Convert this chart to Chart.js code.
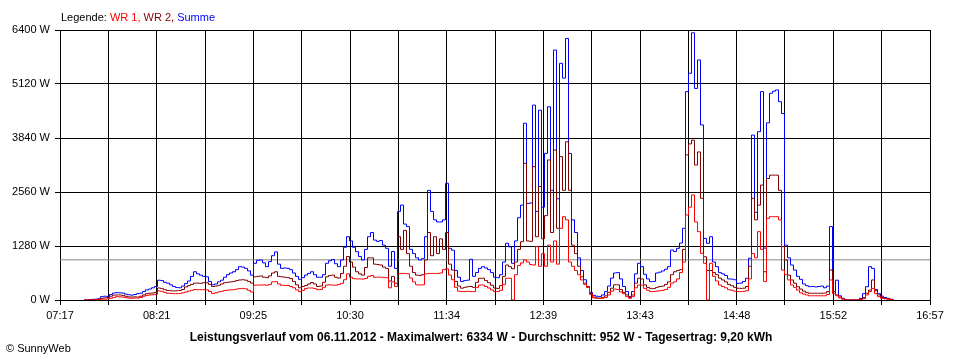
<!DOCTYPE html>
<html lang="de">
<head>
<meta charset="utf-8">
<title>Leistungsverlauf 06.11.2012</title>
<script src="https://cdn.jsdelivr.net/npm/chart.js@4.4.0/dist/chart.umd.min.js"></script>
<style>
    html, body { margin: 0; padding: 0; background: #fff; }
    #leistungChart { display: block; background: #fff; }
</style>
</head>
<body>
<canvas id="leistungChart" width="960" height="360"></canvas>
<script>
/**
 * Leistungsverlauf (SunnyWeb) - 06.11.2012
 */

// Achsen: Zeitachse 07:17 bis 16:57 (580 Minuten), Leistung 0 bis 6400 W
const zeitLabels = ['07:17', '08:21', '09:25', '10:30', '11:34', '12:39', '13:43', '14:48', '15:52', '16:57'];
const achsenMinuten = 580;
const yTicks = [0, 1280, 2560, 3840, 5120, 6400];

// Messwerte in W: erster Wert um 07:33, danach alle 2 Minuten
const ersterWertMinute = 16;
const intervallMinuten = 2;

const summe = [
    0, 0, 10, 15, 20, 30, 80, 90, 85, 130, 165, 175, 170, 165, 140, 125, 115, 130, 150, 160,
    200, 240, 260, 290, 320, 470, 460, 420, 400, 360, 320, 295, 290, 330, 390, 450, 560, 670, 620, 590,
    560, 550, 440, 360, 380, 430, 470, 540, 600, 640, 670, 720, 790, 780, 750, 690, 590, 870, 940, 950,
    880, 790, 910, 1050, 1140, 850, 750, 760, 750, 720, 640, 560, 490, 530, 590, 630, 670, 600, 540, 540,
    600, 870, 930, 960, 860, 790, 950, 1250, 1500, 1400, 1250, 1145, 1030, 950, 1200, 1500, 1600, 1420, 1390, 1410,
    1300, 1225, 800, 1150, 750, 2100, 2250, 1800, 1740, 1200, 1100, 1000, 950, 980, 1500, 2600, 2100, 1900, 1850, 1850,
    1900, 2765, 1225, 1180, 700, 540, 440, 460, 470, 965, 560, 650, 750, 790, 760, 720, 650, 540, 530, 600,
    900, 1345, 1260, 870, 1400, 1950, 2250, 4190, 2290, 2300, 4620, 2100, 4500, 2200, 3475, 4580, 2600, 5925, 2400, 5610,
    5260, 6200, 3475, 1900, 1600, 1000, 700, 480, 315, 180, 110, 90, 80, 120, 200, 330, 520, 640, 650, 500,
    320, 200, 80, 200, 620, 870, 790, 610, 500, 435, 440, 640, 660, 690, 730, 790, 1185, 1150, 1225, 1350,
    1700, 4940, 5375, 6334, 5015, 5690, 4150, 1460, 1345, 1500, 900, 790, 650, 620, 580, 500, 495, 480, 395, 400,
    440, 515, 990, 3910, 2080, 3990, 4940, 1230, 4200, 4900, 4950, 4980, 4700, 4420, 1300, 1000, 830, 710, 560, 490,
    380, 340, 315, 320, 310, 320, 330, 290, 330, 1740, 200, 470, 100, 40, 10, 0, 0, 0, 0, 40,
    150, 315, 790, 750, 250, 150, 90, 60, 40, 20, 0
];

const wr2 = [
    0, 0, 0, 5, 10, 15, 40, 50, 60, 90, 115, 120, 120, 110, 90, 75, 70, 75, 70, 90,
    120, 150, 160, 165, 180, 285, 270, 245, 225, 220, 215, 220, 225, 250, 310, 340, 370, 400, 400, 395,
    410, 410, 370, 320, 330, 350, 380, 410, 420, 430, 440, 460, 475, 480, 470, 440, 400, 550, 560, 570,
    540, 530, 570, 640, 670, 560, 550, 540, 530, 510, 440, 360, 290, 320, 345, 380, 415, 380, 320, 330,
    420, 550, 580, 590, 540, 520, 630, 800, 1030, 900, 780, 670, 620, 590, 770, 1000, 1000, 850, 840, 830,
    780, 750, 450, 560, 400, 1500, 1200, 1650, 1100, 800, 650, 590, 580, 600, 950, 1600, 1050, 1500, 1100, 1450,
    1200, 1600, 850, 710, 440, 330, 280, 300, 315, 320, 300, 420, 515, 515, 460, 410, 350, 285, 275, 340,
    560, 830, 790, 740, 900, 1200, 1380, 3240, 1400, 1390, 3160, 1500, 2690, 1450, 2000, 3320, 1600, 3555, 1700, 3400,
    2600, 3750, 2600, 1300, 1100, 800, 550, 400, 315, 160, 70, 50, 40, 60, 100, 180, 280, 360, 360, 250,
    180, 120, 60, 120, 400, 515, 500, 360, 300, 275, 270, 300, 320, 330, 370, 430, 600, 670, 700, 720,
    1200, 3440, 3700, 3790, 3200, 3510, 2410, 1025, 700, 700, 650, 600, 520, 475, 430, 370, 340, 300, 280, 275,
    280, 320, 800, 2410, 1900, 2250, 2725, 670, 2880, 2960, 2960, 2960, 2600, 1265, 950, 590, 475, 400, 315, 260,
    210, 180, 160, 160, 160, 160, 160, 165, 200, 710, 200, 120, 70, 30, 5, 0, 0, 0, 0, 20,
    60, 160, 235, 475, 220, 120, 60, 40, 30, 15, 0
];

const wr1 = [
    0, 0, 0, 5, 5, 10, 20, 20, 25, 40, 60, 80, 75, 70, 55, 45, 40, 45, 45, 60,
    90, 110, 120, 125, 135, 215, 205, 180, 160, 155, 150, 150, 155, 170, 190, 210, 230, 250, 245, 245,
    245, 240, 200, 155, 170, 190, 205, 225, 235, 240, 245, 260, 270, 275, 265, 230, 190, 350, 355, 355,
    360, 350, 370, 430, 435, 380, 350, 345, 345, 320, 290, 240, 200, 230, 275, 285, 285, 270, 245, 250,
    300, 355, 360, 355, 350, 370, 395, 480, 620, 540, 505, 500, 500, 495, 510, 560, 580, 540, 540, 540,
    535, 530, 290, 430, 320, 620, 630, 630, 620, 520, 430, 360, 355, 360, 620, 630, 630, 630, 630, 640,
    720, 740, 590, 480, 300, 210, 200, 200, 205, 200, 200, 300, 355, 355, 320, 285, 240, 200, 200, 230,
    370, 515, 515, 0, 600, 820, 880, 950, 900, 840, 830, 1265, 800, 1100, 800, 1300, 900, 1400, 850, 1700,
    1975, 1900, 900, 800, 700, 600, 475, 370, 300, 130, 50, 40, 40, 45, 60, 120, 210, 260, 250, 190,
    150, 80, 40, 80, 290, 355, 350, 275, 230, 200, 200, 210, 220, 230, 250, 300, 400, 430, 500, 650,
    900, 2015, 2200, 2490, 1850, 1620, 1105, 870, 0, 870, 560, 450, 355, 320, 290, 245, 230, 210, 200, 200,
    205, 220, 500, 1100, 1000, 1620, 1200, 435, 1935, 1975, 1975, 1975, 1900, 710, 600, 475, 355, 300, 235, 170,
    140, 120, 100, 100, 100, 100, 100, 100, 130, 475, 150, 100, 50, 20, 5, 0, 0, 0, 0, 10,
    30, 120, 200, 275, 150, 80, 40, 30, 20, 10, 0
];

// Tagesdurchschnitt (graue Linie)
const durchschnitt = 952;

/**
 * Wandelt eine Werteliste in {x, y} Punkte um (x = Minuten ab 07:17)
 */
function toPoints(werte) {
    return werte.map((wert, i) => ({ x: ersterWertMinute + i * intervallMinuten, y: wert }));
}

/**
 * Texte um das Diagramm: Legende, Untertitel, Copyright
 */
const sunnyTexte = {
    id: 'sunnyTexte',
    afterDraw(chart) {
        const ctx = chart.ctx;
        ctx.save();
        ctx.textBaseline = 'alphabetic';

        // Legende oben links
        ctx.font = '11px "Liberation Sans", Arial, sans-serif';
        ctx.textAlign = 'left';
        const teile = [
            ['Legende: ', '#000000'],
            ['WR 1, ', '#ff0000'],
            ['WR 2, ', '#800000'],
            ['Summe', '#0000ff']
        ];
        let x = 61;
        teile.forEach(([text, farbe]) => {
            ctx.fillStyle = farbe;
            ctx.fillText(text, x, 21);
            x += ctx.measureText(text).width;
        });

        // Untertitel
        ctx.font = 'bold 12px "Liberation Sans", Arial, sans-serif';
        ctx.textAlign = 'center';
        ctx.fillStyle = '#000000';
        ctx.fillText('Leistungsverlauf vom 06.11.2012 - Maximalwert: 6334 W - Durchschnitt: 952 W - Tagesertrag: 9,20 kWh', 481, 341);

        // Copyright
        ctx.font = '11px "Liberation Sans", Arial, sans-serif';
        ctx.textAlign = 'left';
        ctx.fillText('\u00A9 SunnyWeb', 6, 352);
        ctx.restore();
    }
};

Chart.defaults.font.family = '"Liberation Sans", Arial, sans-serif';
Chart.defaults.font.size = 11;
Chart.defaults.color = '#000000';

const ctx = document.getElementById('leistungChart');

new Chart(ctx, {
    type: 'line',
    data: {
        datasets: [
            {
                label: 'WR 1',
                data: toPoints(wr1),
                borderColor: '#ff0000',
                borderWidth: 1,
                pointRadius: 0,
                stepped: 'middle'
            },
            {
                label: 'WR 2',
                data: toPoints(wr2),
                borderColor: '#800000',
                borderWidth: 1,
                pointRadius: 0,
                stepped: 'middle'
            },
            {
                label: 'Summe',
                data: toPoints(summe),
                borderColor: '#0000ff',
                borderWidth: 1,
                pointRadius: 0,
                stepped: 'middle'
            },
            {
                label: 'Durchschnitt',
                data: [{ x: 0, y: durchschnitt }, { x: achsenMinuten, y: durchschnitt }],
                borderColor: '#888888',
                borderWidth: 1,
                pointRadius: 0
            }
        ]
    },
    options: {
        responsive: false,
        devicePixelRatio: 1,
        animation: false,
        layout: {
            padding: { top: 30, right: 30, left: 0, bottom: 0 }
        },
        plugins: {
            legend: { display: false },
            tooltip: { enabled: false }
        },
        scales: {
            x: {
                type: 'linear',
                min: 0,
                max: achsenMinuten,
                afterBuildTicks: function(scale) {
                    const ticks = [];
                    for (let k = 0; k <= 18; k++) {
                        ticks.push({ value: k * achsenMinuten / 18 });
                    }
                    scale.ticks = ticks;
                },
                afterFit: function(scale) {
                    scale.height = 60;
                },
                grid: { color: '#000000', lineWidth: 1, tickLength: 5 },
                border: { color: '#000000' },
                ticks: {
                    autoSkip: false,
                    maxRotation: 0,
                    padding: 4,
                    callback: function(value, index) {
                        return index % 2 === 0 ? zeitLabels[index / 2] : '';
                    }
                }
            },
            y: {
                min: 0,
                max: 6400,
                afterBuildTicks: function(scale) {
                    scale.ticks = yTicks.map(v => ({ value: v }));
                },
                afterFit: function(scale) {
                    scale.width = 60;
                },
                grid: { color: '#000000', lineWidth: 1, tickLength: 5 },
                border: { color: '#000000' },
                ticks: {
                    padding: 5,
                    callback: function(value) {
                        return value + ' W';
                    }
                }
            }
        }
    },
    plugins: [sunnyTexte]
});
</script>
</body>
</html>
